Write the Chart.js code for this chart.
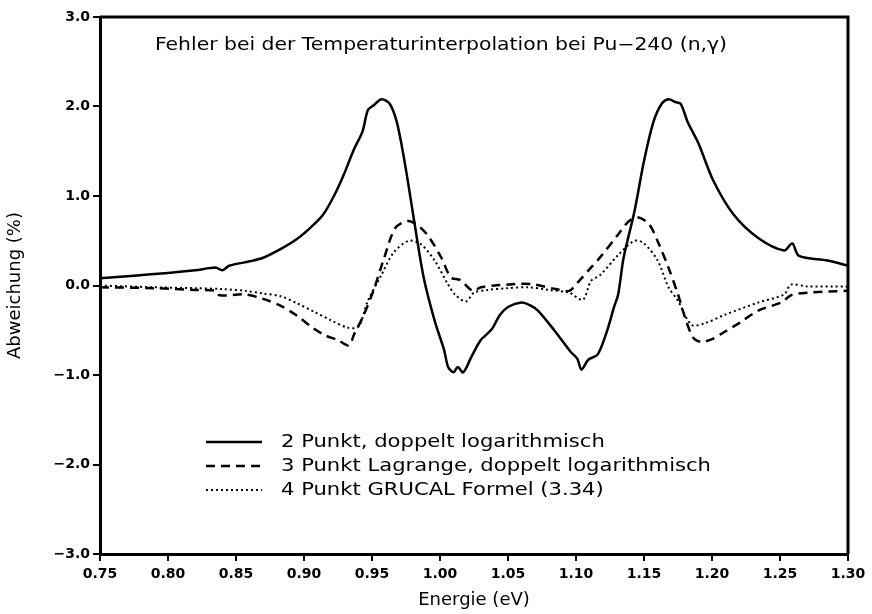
<!DOCTYPE html>
<html>
<head>
<meta charset="utf-8">
<script src="https://cdn.jsdelivr.net/npm/chart.js@4.4.1/dist/chart.umd.min.js"></script>
<style>
  html, body { margin: 0; padding: 0; background: #fff; }
  #wrap { width: 872px; height: 614px; }
</style>
</head>
<body>
<div id="wrap"><canvas id="chart" width="872" height="614"></canvas></div>
<script>
// Fehler bei der Temperaturinterpolation, Pu-240 (n,gamma)
var titel = 'Fehler bei der Temperaturinterpolation bei Pu\u2212240 (n,\u03b3)';
var xTitel = 'Energie (eV)';
var yTitel = 'Abweichung (%)';
var xTicks = [0.75, 0.80, 0.85, 0.90, 0.95, 1.00, 1.05, 1.10, 1.15, 1.20, 1.25, 1.30];
var yTicks = [-3.0, -2.0, -1.0, 0.0, 1.0, 2.0, 3.0];
var labels = ['2 Punkt, doppelt logarithmisch',
              '3 Punkt Lagrange, doppelt logarithmisch',
              '4 Punkt GRUCAL Formel (3.34)'];

/* 2 Punkt, doppelt logarithmisch */
var energie2 = [0.750, 0.775, 0.800, 0.820, 0.835, 0.840, 0.845, 0.860, 0.870, 0.882,
                0.894, 0.905, 0.914, 0.922, 0.929, 0.937, 0.943, 0.947, 0.951, 0.957,
                0.963, 0.968, 0.972, 0.976, 0.981, 0.988, 0.996, 1.003, 1.006, 1.010,
                1.013, 1.017, 1.023, 1.030, 1.038, 1.044, 1.050, 1.060, 1.066, 1.072,
                1.084, 1.096, 1.101, 1.104, 1.109, 1.116, 1.123, 1.128, 1.131, 1.135,
                1.143, 1.150, 1.157, 1.163, 1.168, 1.173, 1.177, 1.182, 1.190, 1.201,
                1.216, 1.234, 1.253, 1.259, 1.264, 1.285, 1.300];
var abw2 = [0.08, 0.11, 0.14, 0.17, 0.20, 0.17, 0.22, 0.27, 0.31, 0.40,
            0.51, 0.65, 0.79, 1.00, 1.23, 1.53, 1.72, 1.96, 2.01, 2.08,
            2.03, 1.84, 1.55, 1.20, 0.72, 0.09, -0.39, -0.72, -0.91, -0.97,
            -0.91, -0.97, -0.80, -0.61, -0.49, -0.33, -0.24, -0.19, -0.22, -0.28,
            -0.50, -0.74, -0.82, -0.94, -0.83, -0.77, -0.50, -0.24, -0.10, 0.31,
            0.83, 1.39, 1.83, 2.03, 2.08, 2.05, 2.03, 1.83, 1.59, 1.17,
            0.79, 0.53, 0.39, 0.47, 0.33, 0.28, 0.22];

/* 3 Punkt Lagrange */
var energie3 = [0.750, 0.790, 0.820, 0.835, 0.838, 0.857, 0.870, 0.882, 0.895, 0.907,
                0.916, 0.925, 0.933, 0.937, 0.943, 0.951, 0.959, 0.967, 0.976, 0.983,
                0.991, 1.001, 1.008, 1.015, 1.024, 1.030, 1.040, 1.050, 1.060, 1.070,
                1.085, 1.095, 1.101, 1.111, 1.118, 1.131, 1.139, 1.146, 1.154, 1.161,
                1.168, 1.175, 1.180, 1.186, 1.192, 1.200, 1.209, 1.220, 1.234, 1.251,
                1.258, 1.270, 1.300];
var abw3 = [-0.02, -0.03, -0.05, -0.06, -0.11, -0.10, -0.15, -0.22, -0.34, -0.48,
            -0.56, -0.61, -0.67, -0.54, -0.36, -0.06, 0.31, 0.64, 0.72, 0.68,
            0.56, 0.31, 0.09, 0.06, -0.06, -0.02, 0.00, 0.01, 0.02, 0.01,
            -0.04, -0.06, 0.03, 0.20, 0.32, 0.57, 0.72, 0.76, 0.68, 0.46,
            0.20, -0.10, -0.35, -0.58, -0.63, -0.60, -0.52, -0.42, -0.28, -0.19,
            -0.11, -0.08, -0.06];

/* 4 Punkt GRUCAL */
var energie4 = [0.750, 0.790, 0.820, 0.840, 0.857, 0.870, 0.883, 0.895, 0.907, 0.920,
                0.932, 0.940, 0.947, 0.957, 0.966, 0.977, 0.986, 0.996, 1.006, 1.011,
                1.019, 1.025, 1.035, 1.050, 1.065, 1.080, 1.095, 1.105, 1.111, 1.118,
                1.131, 1.143, 1.150, 1.160, 1.168, 1.175, 1.185, 1.195, 1.209, 1.234,
                1.253, 1.258, 1.270, 1.300];
var abw4 = [0.00, -0.02, -0.03, -0.04, -0.06, -0.09, -0.12, -0.20, -0.29, -0.39,
            -0.47, -0.46, -0.17, 0.12, 0.37, 0.50, 0.46, 0.28, 0.01, -0.10,
            -0.18, -0.08, -0.05, -0.03, -0.02, -0.05, -0.08, -0.16, 0.05, 0.12,
            0.34, 0.50, 0.47, 0.28, -0.02, -0.17, -0.44, -0.42, -0.33, -0.19,
            -0.10, 0.01, -0.01, -0.01];

function punkte(xs, ys) {
    return xs.map(function (x, i) { return {x: x, y: ys[i]}; });
}

var schrift = "'DejaVu Sans', sans-serif";

// Rahmen, Titel und Legende im Diagramm
var rahmen = {
    id: 'rahmen',
    afterDraw: function (chart) {
        var ctx = chart.ctx, a = chart.chartArea;
        ctx.save();
        ctx.strokeStyle = '#000';
        ctx.lineWidth = 3;
        ctx.beginPath();
        ctx.moveTo(a.left, a.top);
        ctx.lineTo(a.right, a.top);
        ctx.lineTo(a.right, a.bottom);
        ctx.stroke();

        ctx.fillStyle = '#000';
        ctx.textBaseline = 'middle';
        ctx.font = '17px ' + schrift;
        var w = ctx.measureText(titel).width;
        var sx = 572 / w;
        ctx.save();
        ctx.translate(441, 46);
        ctx.scale(sx, 1);
        ctx.textAlign = 'center';
        ctx.fillText(titel, 0, 0);
        ctx.restore();

        // Legende: Breite der laengsten Zeile wie im Original (~430 px)
        ctx.font = '18px ' + schrift;
        ctx.textAlign = 'left';
        var lx = 430 / ctx.measureText(labels[1]).width;
        chart.data.datasets.forEach(function (ds, i) {
            var y = 442 + i * 24;
            ctx.save();
            ctx.strokeStyle = '#000';
            ctx.lineWidth = ds.borderWidth;
            ctx.setLineDash(ds.borderDash || []);
            ctx.beginPath();
            ctx.moveTo(206, y);
            ctx.lineTo(262, y);
            ctx.stroke();
            ctx.restore();
            ctx.save();
            ctx.translate(281, y);
            ctx.scale(lx, 1);
            ctx.fillText(ds.label, 0, 0);
            ctx.restore();
        });
        ctx.restore();
    }
};

var ctx = document.getElementById('chart').getContext('2d');
var chart = new Chart(ctx, {
    type: 'line',
    data: {
        datasets: [{
            label: labels[0],
            data: punkte(energie2, abw2),
            borderColor: '#000',
            borderWidth: 2.5,
            pointRadius: 0,
            tension: 0.3
        }, {
            label: labels[1],
            data: punkte(energie3, abw3),
            borderColor: '#000',
            borderWidth: 2.5,
            borderDash: [9, 6],
            pointRadius: 0,
            tension: 0.3
        }, {
            label: labels[2],
            data: punkte(energie4, abw4),
            borderColor: '#000',
            borderWidth: 2,
            borderDash: [2, 3],
            pointRadius: 0,
            tension: 0.3
        }]
    },
    options: {
        responsive: false,
        animation: false,
        devicePixelRatio: 1,
        layout: { padding: { left: 0, right: 24, top: 17, bottom: 0 } },
        plugins: {
            legend: { display: false },
            tooltip: { enabled: false }
        },
        scales: {
            x: {
                type: 'linear',
                min: 0.75,
                max: 1.30,
                afterFit: function (s) { s.height = 60; },
                afterBuildTicks: function (s) {
                    s.ticks = xTicks.map(function (v) { return {value: v}; });
                },
                border: { display: true, color: '#000', width: 3 },
                grid: { drawOnChartArea: false, drawTicks: true, tickLength: 7, color: '#000', lineWidth: 2 },
                ticks: {
                    color: '#000',
                    padding: 5,
                    maxRotation: 0,
                    font: { family: schrift, size: 14, weight: 'bold' },
                    callback: function (v) { return v.toFixed(2); }
                },
                title: {
                    display: true,
                    text: xTitel,
                    color: '#000',
                    padding: { top: 0, bottom: 3 },
                    font: { family: schrift, size: 18 }
                }
            },
            y: {
                min: -3,
                max: 3,
                afterFit: function (s) { s.width = 100; },
                afterBuildTicks: function (s) {
                    s.ticks = yTicks.map(function (v) { return {value: v}; });
                },
                border: { display: true, color: '#000', width: 3 },
                grid: { drawOnChartArea: false, drawTicks: true, tickLength: 7, color: '#000', lineWidth: 2 },
                ticks: {
                    color: '#000',
                    padding: 3,
                    font: { family: schrift, size: 14, weight: 'bold' },
                    callback: function (v) { return v.toFixed(1).replace('-', '\u2212'); }
                },
                title: {
                    display: true,
                    text: yTitel,
                    color: '#000',
                    padding: { top: 5, bottom: 0 },
                    font: { family: schrift, size: 18 }
                }
            }
        }
    },
    plugins: [rahmen]
});
</script>
</body>
</html>
